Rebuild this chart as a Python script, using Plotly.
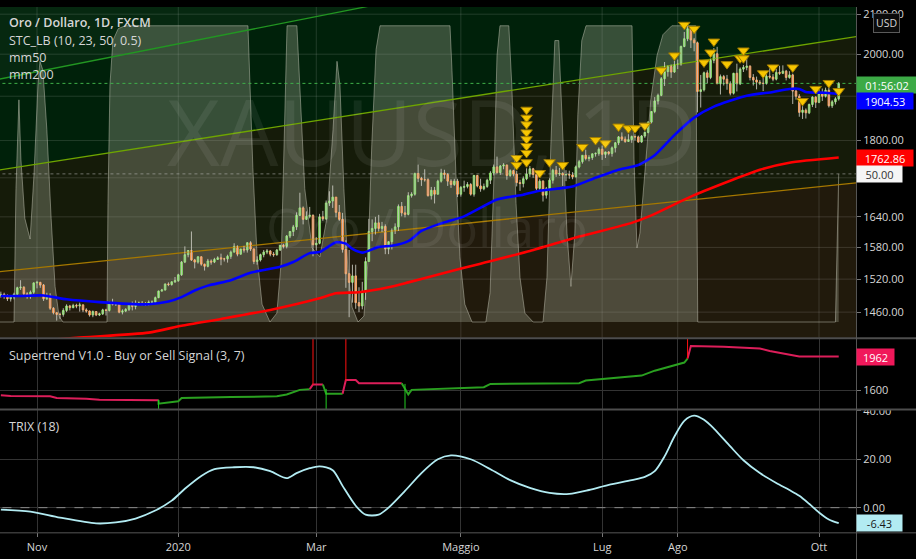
import numpy as np
import pandas as pd
import plotly.graph_objects as go

# ---------------- data ----------------
dates = pd.bdate_range("2019-10-17", "2020-10-09")
dates = dates[dates != pd.Timestamp("2020-01-01")]

opens = [1490,1492,1489,1484,1487,1492,1504,1505,1493,1488,1496,
 1513,1514,1509,1484,1490,1467,1459,1456,1456,1463,1471,1468,1472,1471,1473,1464,1462,1455,1461,1455,1457,
 1464,1463,1477,1474,1475,1460,1462,1465,1475,1470,1476,1476,1475,1475,1478,1478,1486,1498,1500,1511,1510,1515,
 1517,1528,1552,1566,1574,1556,1552,1562,1548,1544,1554,1552,1557,1560,1558,1558,1563,1571,1582,1567,1577,1575,
 1589,1577,1553,1556,1566,1571,1573,1567,1566,1575,1584,1582,1602,1611,1620,1643,1658,1635,1641,1643,
 1585,1588,1640,1636,1668,1672,1680,1649,1635,1576,1530,1514,1526,1477,1471,1498,1553,1611,1617,1628,1617,1621,
 1577,1591,1613,1620,1661,1648,1645,1683,1686,1729,1719,1716,1716,1683,1694,1686,1713,1730,1727,1713,1706,1713,
 1686,1700,1702,1706,1686,1725,1703,1697,1702,1715,1730,1743,1731,1745,1747,1725,1735,1728,1710,1708,1718,
 1728,1739,1727,1698,1713,1684,1697,1715,1736,1728,1729,1726,1727,1726,1722,1743,1754,1768,1761,1763,1771,1772,
 1781,1770,1775,1772,1784,1795,1808,1803,1798,1802,1809,1808,1797,1810,1818,1841,1865,1889,1902,1941,1958,1970,1957,
 1975,1976,2019,2038,2063,2035,2028,1911,1915,1955,1944,1985,2001,1929,1946,1940,1930,1907,1954,1929,1964,
 1968,1971,1944,1938,1933,1930,1930,1947,1945,1940,1956,1954,1959,1944,1950,1912,1900,1863,1868,1862,1881,1898,
 1886,1906,1900,1914,1878,1887,1894]
highs = [1497,1495,1492,1490,1495,1506,1518,1507,1496,1499,1514,
 1517,1515,1511,1495,1494,1469,1460,1459,1467,1474,1473,1475,1475,1477,1474,1467,1463,1463,1462,1459,1466,
 1466,1479,1484,1478,1477,1465,1467,1476,1479,1481,1479,1480,1478,1481,1481,1488,1499,1502,1512,1514,1516,1524,
 1530,1554,1582,1575,1611,1558,1563,1563,1549,1558,1557,1560,1563,1568,1560,1566,1574,1588,1584,1577,1583,1590,
 1592,1578,1563,1568,1575,1577,1575,1571,1577,1585,1587,1604,1612,1624,1649,1689,1661,1651,1660,1645,
 1600,1646,1652,1673,1692,1704,1680,1664,1648,1594,1575,1547,1547,1505,1515,1561,1636,1635,1640,1644,1630,1625,
 1592,1617,1627,1665,1670,1662,1690,1690,1731,1748,1722,1738,1719,1701,1701,1716,1739,1737,1730,1717,1718,1718,
 1703,1714,1711,1709,1726,1726,1718,1708,1718,1734,1748,1765,1747,1751,1748,1738,1737,1735,1716,1723,1740,
 1745,1741,1731,1717,1715,1701,1719,1739,1745,1741,1732,1736,1735,1732,1746,1758,1768,1780,1768,1772,1774,1785,
 1789,1776,1777,1787,1797,1810,1818,1809,1814,1811,1814,1811,1812,1820,1843,1866,1898,1906,1945,1981,1973,1975,1984,
 1987,2021,2055,2075,2070,2040,2031,1950,1958,1961,1989,2015,2018,1951,1950,1950,1935,1955,1977,1968,1974,
 1992,1973,1952,1946,1938,1944,1952,1966,1952,1964,1972,1973,1962,1959,1953,1916,1905,1877,1872,1883,1900,1900,
 1916,1918,1920,1921,1891,1898,1933]
lows = [1486,1484,1480,1479,1483,1489,1500,1490,1484,1484,1493,
 1503,1504,1480,1482,1464,1456,1445,1448,1452,1460,1463,1467,1467,1461,1460,1459,1452,1451,1453,1453,1455,
 1454,1461,1472,1471,1458,1456,1460,1462,1463,1465,1473,1472,1471,1472,1474,1477,1485,1497,1499,1507,1508,1513,
 1515,1526,1550,1561,1554,1540,1549,1545,1536,1542,1547,1550,1556,1546,1553,1551,1558,1570,1563,1566,1570,1570,
 1573,1548,1547,1553,1561,1567,1563,1562,1564,1573,1578,1578,1598,1602,1614,1642,1625,1634,1637,1563,
 1574,1586,1632,1634,1662,1658,1639,1632,1570,1504,1451,1477,1466,1460,1465,1482,1553,1592,1605,1611,1610,1567,
 1567,1576,1606,1612,1641,1639,1643,1679,1683,1711,1703,1712,1681,1675,1667,1685,1710,1718,1703,1699,1703,1680,
 1681,1691,1698,1683,1681,1700,1691,1694,1699,1707,1725,1729,1726,1738,1716,1722,1723,1702,1693,1700,1715,
 1722,1720,1694,1695,1671,1677,1695,1708,1722,1724,1703,1713,1718,1717,1721,1740,1750,1757,1755,1758,1765,1767,
 1758,1762,1768,1765,1774,1790,1799,1795,1797,1795,1800,1795,1795,1806,1816,1838,1861,1881,1900,1924,1946,1943,1955,
 1964,1972,2017,2032,2015,2007,1863,1874,1911,1930,1940,1978,1929,1904,1925,1915,1902,1904,1911,1926,1957,
 1961,1937,1925,1916,1926,1912,1927,1941,1935,1937,1950,1952,1937,1941,1882,1892,1853,1848,1849,1859,1875,1873,
 1884,1889,1897,1874,1873,1881,1890]
closes = [1492,1489,1484,1487,1492,1504,1505,1493,1488,1496,1513,
 1514,1509,1484,1490,1467,1459,1456,1456,1463,1471,1468,1472,1471,1473,1464,1462,1455,1461,1455,1457,1464,
 1463,1477,1474,1475,1460,1462,1465,1475,1470,1476,1476,1475,1475,1478,1478,1486,1498,1500,1511,1510,1515,1517,
 1528,1552,1566,1574,1556,1552,1562,1548,1544,1554,1552,1557,1560,1558,1558,1563,1571,1582,1567,1577,1575,1589,
 1577,1553,1556,1566,1571,1573,1567,1566,1575,1584,1582,1602,1611,1620,1643,1658,1635,1641,1643,1585,
 1588,1640,1636,1668,1672,1680,1649,1635,1576,1530,1514,1526,1477,1471,1498,1553,1611,1617,1628,1617,1621,1577,
 1591,1613,1620,1661,1648,1645,1683,1686,1729,1719,1716,1716,1683,1694,1686,1713,1730,1727,1713,1706,1713,1686,
 1700,1702,1706,1686,1725,1703,1697,1702,1715,1730,1743,1731,1745,1747,1725,1735,1728,1710,1708,1718,1728,
 1739,1727,1698,1713,1684,1697,1715,1736,1728,1729,1726,1727,1726,1722,1743,1754,1768,1761,1763,1771,1772,1781,
 1770,1775,1772,1784,1795,1808,1803,1798,1802,1809,1808,1797,1810,1818,1841,1865,1889,1902,1941,1958,1970,1957,1975,
 1976,2019,2038,2063,2035,2028,1911,1915,1955,1944,1985,2001,1929,1946,1940,1930,1907,1954,1929,1964,1968,
 1971,1944,1938,1933,1930,1930,1947,1945,1940,1956,1954,1959,1944,1950,1912,1900,1863,1868,1862,1881,1898,1886,
 1906,1900,1914,1878,1887,1894,1930]

# moving averages (bar index, value)
ma50_bar = [0,6,13,20,30,45,51,55,59,63,70,76,85,89,94,97,102,105,107,110,115,119,124,128,134,141,151,159,164,174,181,188,194,199,205,211,217,227,235,240,243,245,251,255]
ma50_val = [1489,1489,1490,1483,1478,1474,1479,1487,1499,1508,1518,1532,1543,1552,1569,1571,1590,1587,1577,1570,1581,1583,1592,1612,1627,1641,1675,1685,1693,1702,1720,1737,1747,1768,1812,1851,1876,1901,1910,1917,1917,1910,1908,1905]
ma200_bar = [0,23,45,55,67,82,97,102,109,118,124,134,146,161,176,192,198,210,231,240,255]
ma200_val = [1405,1415,1424,1436,1448,1464,1485,1494,1496,1505,1514,1530,1549,1573,1601,1628,1643,1681,1737,1752,1763]

# STC_LB oscillator (0..100)
stc_bar = [-0.3,4.0,4.6,5.5,6.1,7.3,8.9,10.1,11.3,11.9,12.8,14.0,15.3,16.5,17.7,18.9,
 32.3,32.6,33.2,34.1,35.7,37.8,75.2,75.8,76.7,78.0,79.5,81.9,84.0,85.3,86.2,87.1,
 90.1,91.0,92.5,94.7,97.1,99.2,101.1,102.3,103.2,104.4,105.6,106.9,108.7,110.5,111.7,112.9,114.2,115.4,
 136.7,137.3,138.5,139.7,141.2,143.4,147.6,148.9,150.1,151.0,151.9,154.6,155.5,156.8,158.0,159.5,162.0,
 165.0,166.2,167.4,168.6,169.8,171.1,172.3,173.5,174.7,175.6,176.8,178.1,
 192.1,192.7,193.6,194.5,196.0,197.8,199.7,201.5,204.2,211.5,212.1,254.0,255.0]
stc_val = [0,0,45,75,55,35,28,50,80,88,85,65,35,12,2,0,
 0,40,80,95,99,100,100,82,52,22,6,0,3,20,60,100,
 100,80,45,25,22,35,65,88,80,45,18,5,0,2,20,60,92,100,
 100,85,50,22,6,0,0,10,50,90,100,100,80,40,15,3,0,
 0,15,60,95,95,60,30,12,30,70,95,100,
 100,55,25,30,50,75,90,97,100,100,0,0,50]
stc_level = 50

# drawn channel lines (bar index, price)
trend_bars = [-2, 262]
trend_top = [1937.6, 2388.0]
trend_mid = [1734.8, 2045.6]
trend_low = [1532.8, 1710.7]

# signal triangles
tri_bar = [157,157,160,160,160,160,160,160,160,160,164,167,171,177,181,184,188,191,193,196,201,205,208,211,214,216,217,221,225,226,226,232,235,241,244,248,252,255]
tri_price = [1762,1747,1869,1851,1836,1818,1803,1788,1773,1753,1730,1753,1747,1786,1801,1794,1831,1827,1827,1833,1961,1997,2073,2063,1980,2004,2031,1976,1990,2009,1990,1954,1968,1968,1889,1917,1931,1912]

# Supertrend segments
st_red1_bar = [0,3,15,17,26,30,48];            st_red1 = [1544,1536,1533,1515,1508,1497,1490]
st_green1_bar = [48,54,55,70,84,87,91,94];      st_green1 = [1454,1480,1515,1525,1533,1554,1603,1611]
st_red2_bar = [95,98];                          st_red2 = [1661,1661]
st_green2_bar = [99,104];                       st_green2 = [1561,1561]
st_red3_bar = [105,108,109,122];                st_red3 = [1710,1710,1675,1675]
st_green3_bar = [124,125,134,147,149,176,178,184,188,195,199,204,208,209]
st_green3 = [1554,1603,1614,1632,1667,1675,1703,1720,1738,1757,1810,1863,1898,1941]
st_red4_bar = [210,220,231,234,243,255];        st_red4 = [2076,2069,2050,2023,1962,1962]
sell_bars = [95,105,209]; sell_to = [1655,1700,1941]
buy_bars = [48,99,123];   buy_from = [1497,1613,1667]

# TRIX(18)
trix_bar = [0,9,18,29,35,41,47,52,56,61,65,71,77,82,87,90,94,97,101,104,108,111,115,118,123,128,133,137,143,149,155,161,167,173,179,185,192,196,199,202,205,208,211,214,217,222,226,231,236,240,243,246,249,252,255]
trix_val = [-0.8,-1.6,-4.1,-6.5,-6.1,-4.5,-1.2,2.9,7.8,13.1,15.9,16.7,16.7,15.1,12.2,14.3,16.3,17.1,15.5,9.0,0.8,-2.9,-2.9,0.0,6.9,14.3,20.0,21.6,20.0,15.9,11.4,8.2,6.1,5.7,7.3,9.4,11.4,12.7,15.1,21.2,29.4,35.9,38.0,36.3,32.7,25.3,19.6,14.3,10.2,7.3,4.9,1.6,-2.0,-4.9,-6.43]

month_starts = ["2019-11-01","2020-01-01","2020-03-01","2020-05-01","2020-07-01","2020-08-01","2020-10-01"]
month_labels = ["Nov","2020","Mar","Maggio","Lug","Ago","Ott"]
price_ticks = [1460,1520,1580,1640,1720,1800,1900,2000,2100]
price_tick_labels_hidden = [1720, 1900]   # covered by value labels in the original

# ---------------- figure ----------------
W, H = 916, 559
bars = np.arange(len(dates))
o = np.array(opens, float); c = np.array(closes, float)
month_idx = [int(np.argmax(dates >= pd.Timestamp(m))) for m in month_starts]

PRICE_RANGE = [np.log10(1415.0), np.log10(2118.5)]
ST_RANGE = [1397.7, 2153.8]
TRIX_RANGE = [-10.2, 40.41]
STC_RANGE = [-5.33, 106.33]

fig = go.Figure()
nohov = dict(hoverinfo="skip", showlegend=False)

def zone(ylist, color):
    fig.add_trace(go.Scatter(x=[trend_bars[0], trend_bars[1], trend_bars[1], trend_bars[0], trend_bars[0]],
                             y=ylist + [ylist[0]], mode="lines", fill="toself", fillcolor=color,
                             line=dict(width=0), xaxis="x", yaxis="y", **nohov))

zone([trend_top[0], trend_top[1], 9000, 9000], "rgb(6,40,16)")
zone([trend_top[0], trend_top[1], trend_mid[1], trend_mid[0]], "rgb(0,33,10)")
zone([trend_mid[0], trend_mid[1], trend_low[1], trend_low[0]], "rgb(21,27,9)")
zone([trend_low[0], trend_low[1], 900, 900], "rgb(33,26,12)")

# price-pane grid
gx, gy = [], []
for v in price_ticks:
    gx += [-5, 270, None]; gy += [v, v, None]
for i in month_idx:
    gx += [i, i, None]; gy += [900, 9000, None]
fig.add_trace(go.Scatter(x=gx, y=gy, mode="lines", line=dict(color="rgba(255,255,255,0.13)", width=1),
                         xaxis="x", yaxis="y", **nohov))

# STC area
fig.add_trace(go.Scatter(x=stc_bar, y=stc_val, mode="lines", fill="tozeroy",
                         fillcolor="rgba(168,172,152,0.33)", line=dict(color="rgba(210,210,195,0.45)", width=1),
                         xaxis="x", yaxis="y4", **nohov))
fig.add_trace(go.Scatter(x=[-5, 270], y=[stc_level, stc_level], mode="lines",
                         line=dict(color="rgba(200,200,200,0.5)", width=1, dash="dot"), xaxis="x", yaxis="y4", **nohov))

# trend lines
for ys, col in [(trend_top, "rgb(34,150,34)"), (trend_mid, "rgb(110,165,0)"), (trend_low, "rgb(165,120,0)")]:
    fig.add_trace(go.Scatter(x=trend_bars, y=ys, mode="lines", line=dict(color=col, width=1.3),
                             xaxis="x", yaxis="y5", **nohov))

# current price line
fig.add_trace(go.Scatter(x=[-5, 270], y=[closes[-1], closes[-1]], mode="lines",
                         line=dict(color="#3fb049", width=1, dash="dot"), xaxis="x", yaxis="y5", **nohov))

# wicks
wx, wy = [], []
for i in range(len(bars)):
    wx += [i, i, None]; wy += [lows[i], highs[i], None]
fig.add_trace(go.Scatter(x=wx, y=wy, mode="lines", line=dict(color="rgba(205,205,195,0.85)", width=1),
                         xaxis="x", yaxis="y5", **nohov))
# bodies
fig.add_trace(go.Candlestick(x=bars, open=o, close=c, high=np.maximum(o, c), low=np.minimum(o, c),
                             increasing=dict(line=dict(color="#86e062", width=1), fillcolor="#3cab3a"),
                             decreasing=dict(line=dict(color="#ff9a48", width=1), fillcolor="#e0391f"),
                             xaxis="x", yaxis="y5", hoverinfo="skip", showlegend=False))

# moving averages
fig.add_trace(go.Scatter(x=ma200_bar, y=ma200_val, mode="lines", line=dict(color="#ff0000", width=2.6, shape="spline", smoothing=0.6),
                         xaxis="x", yaxis="y5", **nohov))
fig.add_trace(go.Scatter(x=ma50_bar, y=ma50_val, mode="lines", line=dict(color="#0000ff", width=2.6, shape="spline", smoothing=0.6),
                         xaxis="x", yaxis="y5", **nohov))

# triangles
fig.add_trace(go.Scatter(x=tri_bar, y=tri_price, mode="markers",
                         marker=dict(symbol="triangle-down", size=10, color="#f7c600", line=dict(color="#a07c00", width=1)),
                         xaxis="x", yaxis="y5", **nohov))

# Supertrend
RED, GREEN = "#dc1e5a", "#2aa020"
segs = [(st_red1_bar, st_red1, RED), (st_green1_bar, st_green1, GREEN), (st_red2_bar, st_red2, RED),
        (st_green2_bar, st_green2, GREEN), (st_red3_bar, st_red3, RED), (st_green3_bar, st_green3, GREEN),
        (st_red4_bar, st_red4, RED)]
prev = None
for bx, by, col in segs:
    xs, ys = list(bx), list(by)
    if prev is not None:
        xs = [prev[0]] + xs; ys = [prev[1]] + ys
    fig.add_trace(go.Scatter(x=xs, y=ys, mode="lines", line=dict(color=col, width=2), xaxis="x", yaxis="y2", **nohov))
    prev = (bx[-1], by[-1])
for b, v in zip(sell_bars, sell_to):
    fig.add_trace(go.Scatter(x=[b, b], y=[3000, v], mode="lines", line=dict(color="#ff1010", width=1), xaxis="x", yaxis="y2", **nohov))
for b, v in zip(buy_bars, buy_from):
    fig.add_trace(go.Scatter(x=[b, b], y=[v, 1000], mode="lines", line=dict(color="#22cc22", width=1), xaxis="x", yaxis="y2", **nohov))

# TRIX
fig.add_trace(go.Scatter(x=[-5, 270], y=[0, 0], mode="lines", line=dict(color="#8a8a8a", width=1, dash="dash"),
                         xaxis="x", yaxis="y3", **nohov))
fig.add_trace(go.Scatter(x=trix_bar, y=trix_val, mode="lines", line=dict(color="#b2ebf2", width=1.8, shape="spline", smoothing=0.8),
                         xaxis="x", yaxis="y3", **nohov))

AXF = dict(family="Open Sans", size=11, color="#d6d6d6")
XD = 856 / W
def py(pix):
    return 1 - pix / H

vis_ticks = [v for v in price_ticks if v not in price_tick_labels_hidden]
common_y = dict(side="right", anchor="x", ticks="outside", ticklen=4, tickcolor="#777", tickfont=AXF,
                zeroline=False, showline=False, fixedrange=True)
fig.update_layout(
    width=W, height=H, margin=dict(l=0, r=0, t=0, b=0), autosize=False,
    paper_bgcolor="#000000", plot_bgcolor="#000000", showlegend=False, hovermode=False,
    xaxis=dict(domain=[0, XD], range=[-0.26, 260.26], anchor="y3", tickvals=month_idx, ticktext=month_labels,
               ticks="outside", ticklen=4, tickcolor="#777", tickfont=AXF, showgrid=True, gridcolor="#333333",
               zeroline=False, showline=False, rangeslider=dict(visible=False)),
    yaxis=dict(domain=[py(335), 1], type="log", range=PRICE_RANGE, tickvals=vis_ticks,
               ticktext=[f"{v:.2f}" for v in vis_ticks], showgrid=False, **common_y),
    yaxis2=dict(domain=[py(407), py(336)], range=ST_RANGE, tickvals=[1600], ticktext=["1600"],
                showgrid=True, gridcolor="#333333", **common_y),
    yaxis3=dict(domain=[py(532), py(408)], range=TRIX_RANGE, tickvals=[0, 20, 40], ticktext=["0.00", "20.00", "40.00"],
                showgrid=True, gridcolor="#333333", **common_y),
    yaxis4=dict(overlaying="y", anchor="x", range=STC_RANGE, visible=False),
    yaxis5=dict(overlaying="y", anchor="x", type="log", range=PRICE_RANGE, visible=False),
)

shapes = [
    dict(type="rect", xref="paper", yref="paper", x0=857 / W, x1=1, y0=py(408), y1=py(396),
         fillcolor="#000000", line=dict(width=0)),
    dict(type="line", xref="paper", yref="paper", x0=0, x1=1, y0=py(335.5), y1=py(335.5), line=dict(color="#4d4d4d", width=2)),
    dict(type="line", xref="paper", yref="paper", x0=0, x1=1, y0=py(407.5), y1=py(407.5), line=dict(color="#4d4d4d", width=2)),
    dict(type="line", xref="paper", yref="paper", x0=0, x1=1, y0=py(532.5), y1=py(532.5), line=dict(color="#555555", width=1)),
    dict(type="line", xref="paper", yref="paper", x0=856.5 / W, x1=856.5 / W, y0=0, y1=1, line=dict(color="#555555", width=1)),
]
fig.update_layout(shapes=shapes)

ann = []
def txt(x, y, s, size=12.5, color="#d6d6d6", weight=400, **kw):
    ann.append(dict(xref="paper", yref="paper", x=x / W, y=py(y), text=s, showarrow=False, xanchor="left",
                    yanchor="middle", font=dict(family="Open Sans", size=size, color=color, weight=weight), **kw))

# watermark
ann.append(dict(xref="paper", yref="paper", x=432 / W, y=py(125), text="XAUUSD, 1D", showarrow=False,
                xanchor="center", yanchor="middle", font=dict(family="Open Sans", size=92, color="rgba(255,255,255,0.07)")))
ann.append(dict(xref="paper", yref="paper", x=427 / W, y=py(222), text="Oro / Dollaro", showarrow=False,
                xanchor="center", yanchor="middle", font=dict(family="Open Sans", size=53, color="rgba(255,255,255,0.07)")))

txt(7, 16, "Oro / Dollaro, 1D, FXCM", weight=600)
txt(7, 34, "STC_LB (10, 23, 50, 0.5)")
txt(7, 51, "mm50")
txt(7, 68, "mm200")
txt(7, 353, "Supertrend V1.0 - Buy or Sell Signal (3, 7)")
txt(7, 425, "TRIX (18)")

def plabel(y, s, bg, fg, w):
    ann.append(dict(xref="paper", yref="paper", x=856 / W, y=py(y), text=s, showarrow=False, xanchor="left",
                    yanchor="middle", align="center", width=w, height=12, borderpad=2, bgcolor=bg,
                    font=dict(family="Open Sans", size=11, color=fg)))

plabel(79, "01:56:02", "#3caa46", "#ffffff", 56)
plabel(95, "1904.53", "#0000ff", "#ffffff", 52)
plabel(152.5, "1762.86", "#ff0000", "#ffffff", 52)
plabel(169, "50.00", "#f5f5f5", "#333333", 41)
plabel(354, "1962", "#f0185a", "#ffffff", 33)
plabel(523, "-6.43", "#b2ebf2", "#1a1a1a", 41)

ann.append(dict(xref="paper", yref="paper", x=886 / W, y=py(16), text="USD", showarrow=False, xanchor="center",
                yanchor="middle", bgcolor="#0b0b0b", bordercolor="#5a5a5a", borderwidth=1, borderpad=2,
                font=dict(family="Open Sans", size=10.5, color="#d6d6d6")))

fig.update_layout(annotations=ann)
fig.write_html("out.html")
